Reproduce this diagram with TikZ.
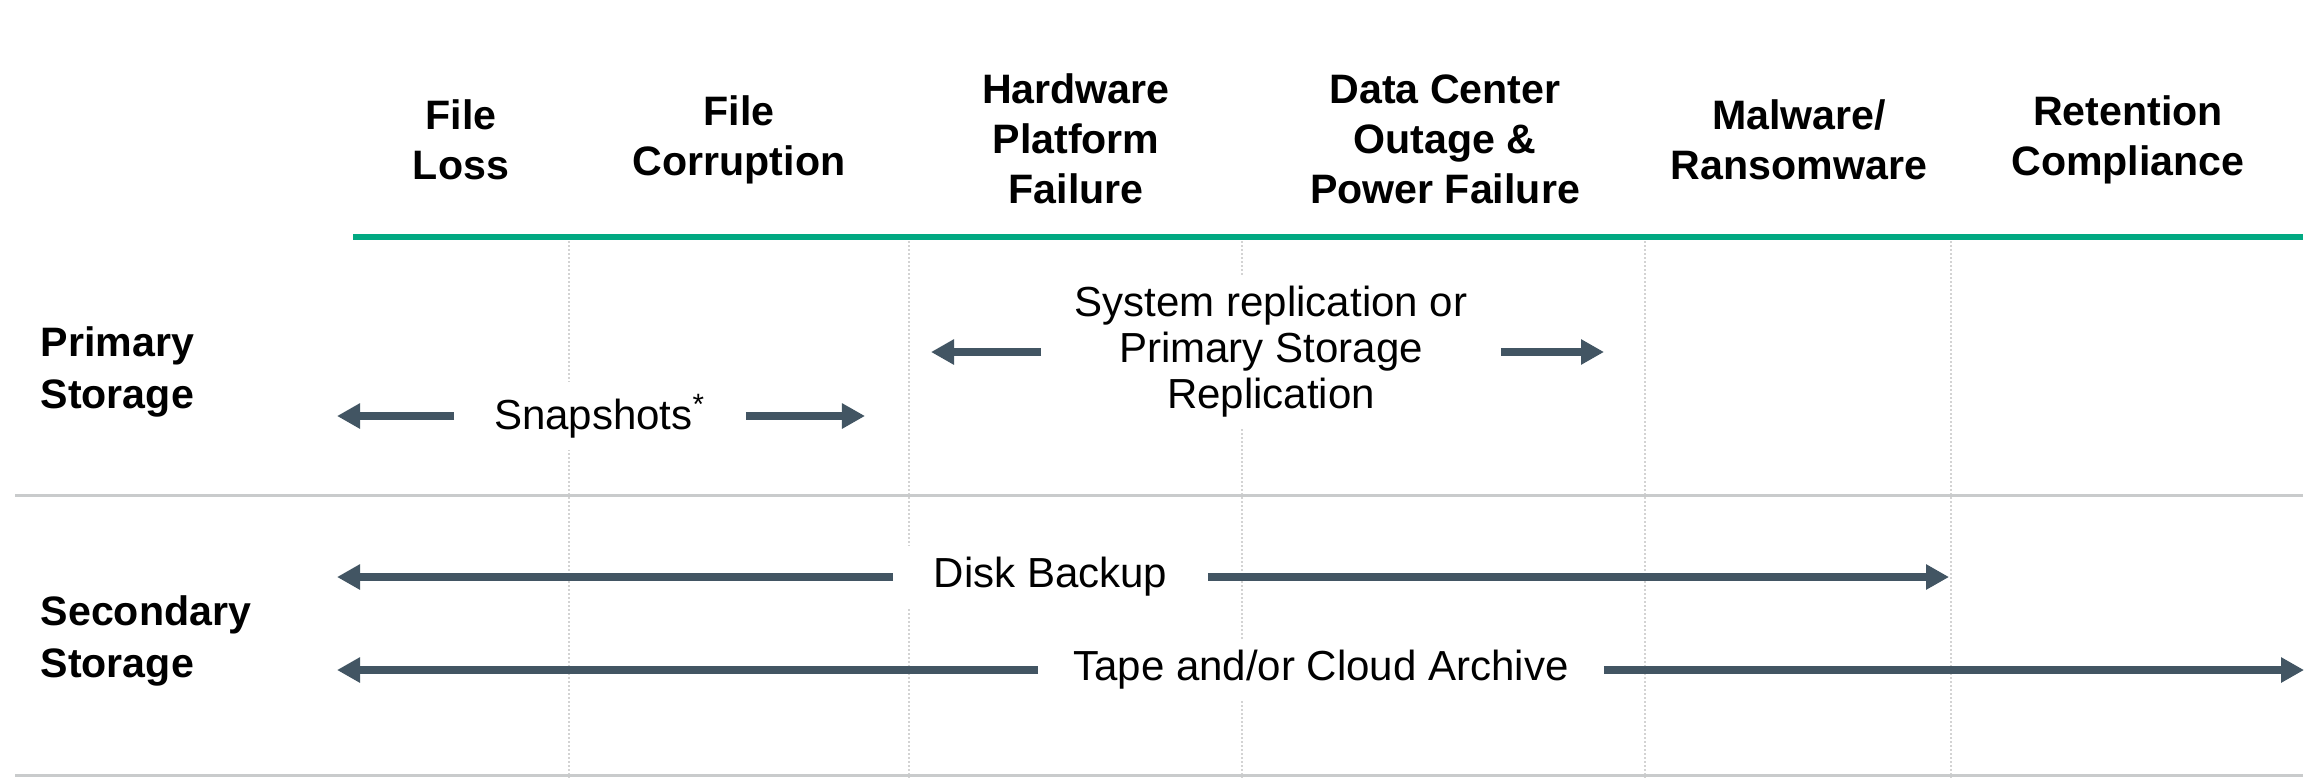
\documentclass[tikz,border=0pt]{standalone}
\usepackage{fontspec}
\setmainfont{Liberation Sans}
\usetikzlibrary{arrows.meta}
\definecolor{hpegreen}{HTML}{01A982}
\definecolor{slate}{HTML}{425563}
\definecolor{rulegray}{HTML}{C9CBCC}
\definecolor{dotgray}{HTML}{D3D3D3}

\begin{document}
\begin{tikzpicture}[x=0.01cm,y=-0.01cm,
  head/.style={align=center,font=\fontsize{11.7}{14.2}\selectfont\bfseries},
  rowlab/.style={align=left,anchor=west,inner sep=0pt,font=\fontsize{11.7}{15}\selectfont\bfseries},
  lab/.style={align=center,fill=white,inner xsep=0pt,font=\fontsize{11.95}{13.1}\selectfont},
  arr/.style={slate,line width=0.08cm,-{Triangle[length=0.23cm,width=0.24cm]}}]
  \useasboundingbox (0,0) rectangle (2318,778);
  % column separators
  \foreach \x in {569,909,1242,1645,1951}
    \draw[dotgray,line width=0.015cm,dash pattern=on 0.02cm off 0.02cm] (\x,241)--(\x,778);
  \draw[hpegreen,line width=0.06cm] (353,237)--(2303,237);
  \draw[rulegray,line width=0.03cm] (15,495)--(2303,495);
  \draw[rulegray,line width=0.03cm] (15,775)--(2303,775);

  \node[head] (loss) at (461,140) {File\\Loss};
  \node[head] (corr) at (739,140) {File\\Corruption};
  \node[head] (hw) at (1076,139) {Hardware\\Platform\\Failure};
  \node[head] (dc) at (1445,139) {Data Center\\Outage \&\\Power Failure};
  \node[head] (mal) at (1799,140) {Malware/\\Ransomware};
  \node[head] (ret) at (2128,140) {Retention\\Compliance};

  \node[rowlab] (prim) at (40,372) {Primary\\Storage};
  \node[rowlab] (sec) at (40,641) {Secondary\\Storage};

  \node[lab,minimum width=2.9cm] (snap) at (600,416) {Snapshots\textsuperscript{*}};
  \node[lab,minimum width=4.58cm] (sys) at (1271,352) {System replication or\\Primary Storage\\Replication};
  \node[lab,minimum width=3.13cm] (disk) at (1050.5,577) {Disk Backup};
  \node[lab,minimum width=5.64cm] (tape) at (1321,670) {Tape and/or Cloud Archive};

  \coordinate (snapL) at (337,416);  \coordinate (snapR) at (865,416);
  \coordinate (sysL) at (931,352);   \coordinate (sysR) at (1604,352);
  \coordinate (diskL) at (337,577);  \coordinate (diskR) at (1949,577);
  \coordinate (tapeL) at (337,670);  \coordinate (tapeR) at (2304,670);

  \draw[arr] (snap.west)--(snapL);
  \draw[arr] (snap.east)--(snapR);
  \draw[arr] (sys.west)--(sysL);
  \draw[arr] (sys.east)--(sysR);
  \draw[arr] (disk.west)--(diskL);
  \draw[arr] (disk.east)--(diskR);
  \draw[arr] (tape.west)--(tapeL);
  \draw[arr] (tape.east)--(tapeR);
\end{tikzpicture}
\end{document}
